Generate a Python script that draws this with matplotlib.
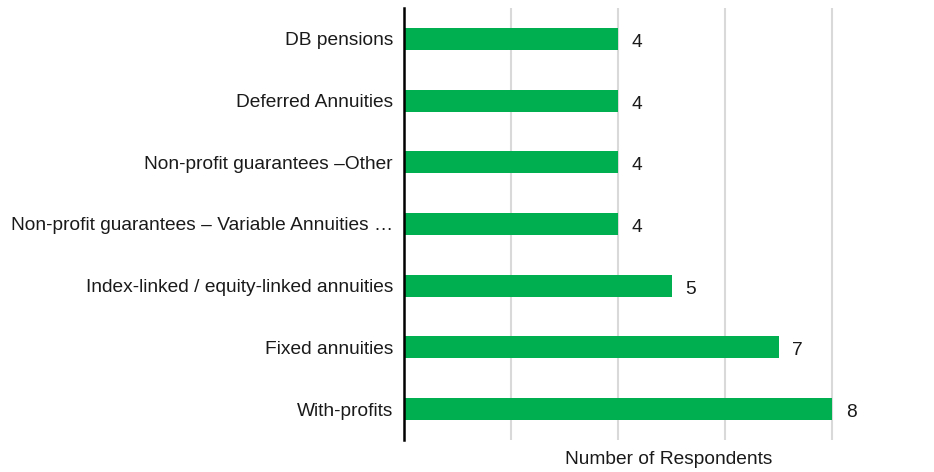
import matplotlib.pyplot as plt

categories = ['With-profits', 'Fixed annuities', 'Index-linked / equity-linked annuities',
              'Non-profit guarantees \u2013 Variable Annuities \u2026', 'Non-profit guarantees \u2013Other',
              'Deferred Annuities', 'DB pensions']
values = [8, 7, 5, 4, 4, 4, 4]

plt.rcParams['font.family'] = ['Liberation Sans', 'DejaVu Sans']

fig = plt.figure(figsize=(9.34, 4.72), dpi=100)
ax = fig.add_axes([404 / 934, 1 - 440 / 472, 1 - 404 / 934, 432 / 472])

pos = list(range(len(categories)))
ax.barh(pos, values, height=0.355, color='#00B050', zorder=3)
for p, v in zip(pos, values):
    ax.annotate(str(v), (v, p), xytext=(10, -2.5), textcoords='offset points',
                va='center', ha='left', fontsize=13.8, color='#1a1a1a')

ax.set_xlim(0, 530 / 53.5)
ax.set_ylim(-0.5, 6.5)
ax.set_xticks([2, 4, 6, 8])
ax.set_xticklabels([])
ax.tick_params(axis='x', length=0)
ax.grid(axis='x', color='#D9D9D9', linewidth=1.5, zorder=0)
ax.set_yticks(pos)
ax.set_yticklabels(categories, fontsize=13.8, color='#1a1a1a')
ax.tick_params(axis='y', length=0, pad=8)
for s in ['top', 'right', 'bottom']:
    ax.spines[s].set_visible(False)
ax.spines['left'].set_linewidth(1.8)
ax.spines['left'].set_color('black')
ax.spines['left'].set_zorder(4)
ax.set_xlabel('Number of Respondents', fontsize=13.8, color='#1a1a1a', labelpad=4.5)

fig.savefig('out.png', dpi=100)
